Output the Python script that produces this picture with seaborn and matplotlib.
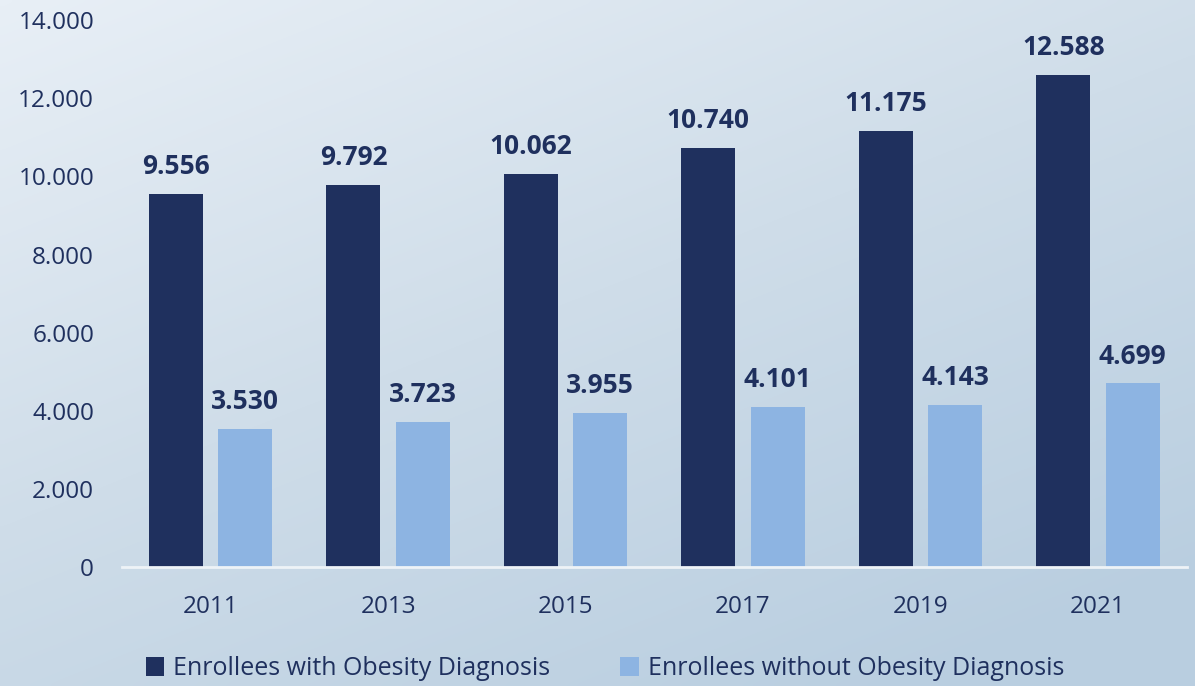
import numpy as np
import pandas as pd
import matplotlib
matplotlib.use("Agg")
import matplotlib.pyplot as plt
from matplotlib.colors import LinearSegmentedColormap
import seaborn as sns

years = ["2011", "2013", "2015", "2017", "2019", "2021"]
with_obesity = [9556, 9792, 10062, 10740, 11175, 12588]
without_obesity = [3530, 3723, 3955, 4101, 4143, 4699]
series_names = ["Enrollees with Obesity Diagnosis", "Enrollees without Obesity Diagnosis"]

df = pd.DataFrame({
    "year": years * 2,
    "value": with_obesity + without_obesity,
    "series": [series_names[0]] * len(years) + [series_names[1]] * len(years),
})

sns.set_theme(style="white")
plt.rcParams["font.family"] = ["Open Sans", "DejaVu Sans"]

dark = "#1f305e"
light = "#8db4e2"
text_col = "#1f305e"

fig = plt.figure(figsize=(11.95, 6.86), dpi=100)

# background gradient
bg = fig.add_axes([0, 0, 1, 1], zorder=-10)
nx, ny = 240, 140
xx, yy = np.meshgrid(np.linspace(0, 1, nx), np.linspace(0, 1, ny))
t = np.clip(0.45 * xx + 0.65 * yy, 0, 1)
cmap = LinearSegmentedColormap.from_list("bg", ["#e8eff6", "#cfdde9", "#b9cee0"])
bg.imshow(t, cmap=cmap, aspect="auto", extent=[0, 1, 0, 1], interpolation="bicubic")
bg.axis("off")

ax = fig.add_axes([0.102, 0.1735, 0.891, 0.797])
ax.patch.set_alpha(0)
sns.barplot(data=df, x="year", y="value", hue="series", palette=[dark, light],
            width=0.78, gap=0.22, saturation=1, linewidth=0, ax=ax, legend=True)

for cont in ax.containers:
    ax.bar_label(cont, labels=[f"{v:,.0f}".replace(",", ".") for v in cont.datavalues],
                 padding=10, fontsize=19, fontweight="bold", color=text_col)

ax.set_ylim(0, 14000)
ax.set_yticks(range(0, 14001, 2000))
ax.set_yticklabels([f"{v:,}".replace(",", ".") for v in range(0, 14001, 2000)])
ax.set_xlabel("")
ax.set_ylabel("")
ax.tick_params(axis="both", labelsize=17.5, colors=text_col, length=0)
ax.tick_params(axis="x", pad=20)
ax.tick_params(axis="y", pad=20)
for s in ["top", "right", "left"]:
    ax.spines[s].set_visible(False)
ax.spines["bottom"].set_color("#eef3f7")
ax.spines["bottom"].set_linewidth(2)

ax.legend(loc="upper center", bbox_to_anchor=(0.4535, -0.131), ncol=2, frameon=False,
          fontsize=18, handlelength=0.75, handleheight=0.75, handletextpad=0.35,
          columnspacing=2.8, labelcolor=text_col, borderaxespad=0.3)

fig.savefig("out.png", dpi=100)
